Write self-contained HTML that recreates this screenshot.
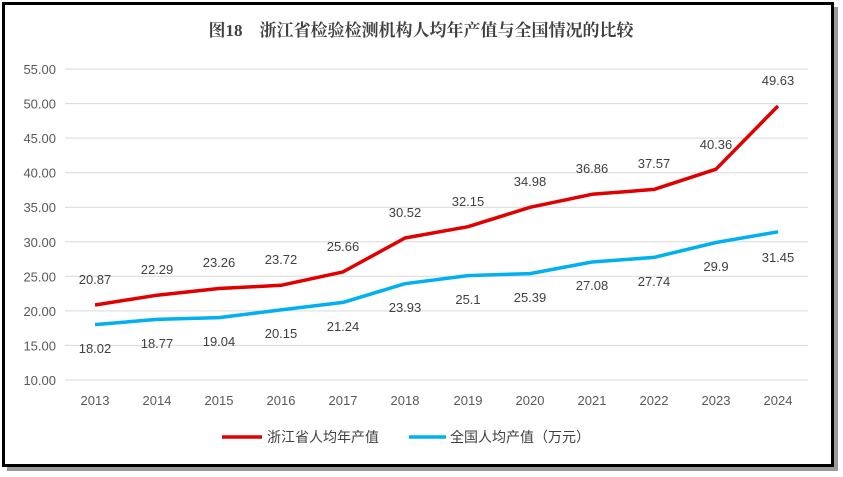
<!DOCTYPE html>
<html><head><meta charset="utf-8"><style>
html,body{margin:0;padding:0;background:#fff}
svg{display:block;font-family:"Liberation Sans","Noto Sans CJK SC",sans-serif}
</style></head><body>
<svg width="843" height="477" viewBox="0 0 843 477">
<rect x="0" y="0" width="843" height="477" fill="#fff"/>
<rect x="7" y="7" width="831" height="464" fill="#9a9a9a"/>
<rect x="3.5" y="3.5" width="829" height="462" fill="#fff" stroke="#000" stroke-width="3"/>
<text x="421" y="36" text-anchor="middle" font-size="17" font-weight="bold" fill="#404040" font-family="'Liberation Serif','Noto Serif CJK SC',serif">图18　浙江省检验检测机构人均年产值与全国情况的比较</text>
<g stroke="#d9d9d9" stroke-width="1">
<line x1="65" x2="808" y1="69" y2="69"/><line x1="65" x2="808" y1="103.6" y2="103.6"/>
<line x1="65" x2="808" y1="138.1" y2="138.1"/><line x1="65" x2="808" y1="172.7" y2="172.7"/>
<line x1="65" x2="808" y1="207.2" y2="207.2"/><line x1="65" x2="808" y1="241.8" y2="241.8"/>
<line x1="65" x2="808" y1="276.3" y2="276.3"/><line x1="65" x2="808" y1="310.9" y2="310.9"/>
<line x1="65" x2="808" y1="345.4" y2="345.4"/><line x1="65" x2="808" y1="380" y2="380"/>
</g>
<g font-size="13" fill="#595959" text-anchor="end">
<text x="56" y="74">55.00</text><text x="56" y="108.6">50.00</text><text x="56" y="143.1">45.00</text>
<text x="56" y="177.7">40.00</text><text x="56" y="212.2">35.00</text><text x="56" y="246.8">30.00</text>
<text x="56" y="281.3">25.00</text><text x="56" y="315.9">20.00</text><text x="56" y="350.4">15.00</text>
<text x="56" y="385">10.00</text>
</g>
<g font-size="13" fill="#595959" text-anchor="middle">
<text x="95" y="405">2013</text><text x="157" y="405">2014</text><text x="219" y="405">2015</text>
<text x="281" y="405">2016</text><text x="343" y="405">2017</text><text x="405" y="405">2018</text>
<text x="468" y="405">2019</text><text x="530" y="405">2020</text><text x="592" y="405">2021</text>
<text x="654" y="405">2022</text><text x="716" y="405">2023</text><text x="778" y="405">2024</text>
</g>
<polyline fill="none" stroke="#00b0f0" stroke-width="3.5" stroke-linejoin="round" points="95,324.6 157,319.4 219,317.6 281,309.9 343,302.4 405,283.7 468,275.6 530,273.6 592,262 654,257.4 716,242.5 778,231.8"/>
<polyline fill="none" stroke="#e00000" stroke-width="3.5" stroke-linejoin="round" points="95,305 157,295.2 219,288.5 281,285.3 343,271.9 405,238 468,226.7 530,207.3 592,194.3 654,189.4 716,169.2 778,106"/>
<g font-size="13" fill="#404040" text-anchor="middle">
<text x="95" y="284">20.87</text><text x="157" y="274">22.29</text><text x="219" y="267">23.26</text>
<text x="281" y="264">23.72</text><text x="343" y="251">25.66</text><text x="405" y="217">30.52</text>
<text x="468" y="206">32.15</text><text x="530" y="186">34.98</text><text x="592" y="173">36.86</text>
<text x="654" y="168">37.57</text><text x="716" y="149">40.36</text><text x="778" y="85">49.63</text>
<text x="95" y="353">18.02</text><text x="157" y="348">18.77</text><text x="219" y="346">19.04</text>
<text x="281" y="338">20.15</text><text x="343" y="331">21.24</text><text x="405" y="312">23.93</text>
<text x="468" y="304">25.1</text><text x="530" y="302">25.39</text><text x="592" y="290">27.08</text>
<text x="654" y="286">27.74</text><text x="716" y="271">29.9</text><text x="778" y="262">31.45</text>
</g>
<line x1="222" x2="262" y1="437" y2="437" stroke="#e00000" stroke-width="3.5"/>
<text x="267" y="442" font-size="14" fill="#404040">浙江省人均年产值</text>
<line x1="409" x2="446" y1="437" y2="437" stroke="#00b0f0" stroke-width="3.5"/>
<text x="450" y="442" font-size="14" fill="#404040">全国人均产值（万元）</text>
</svg>
</body></html>
